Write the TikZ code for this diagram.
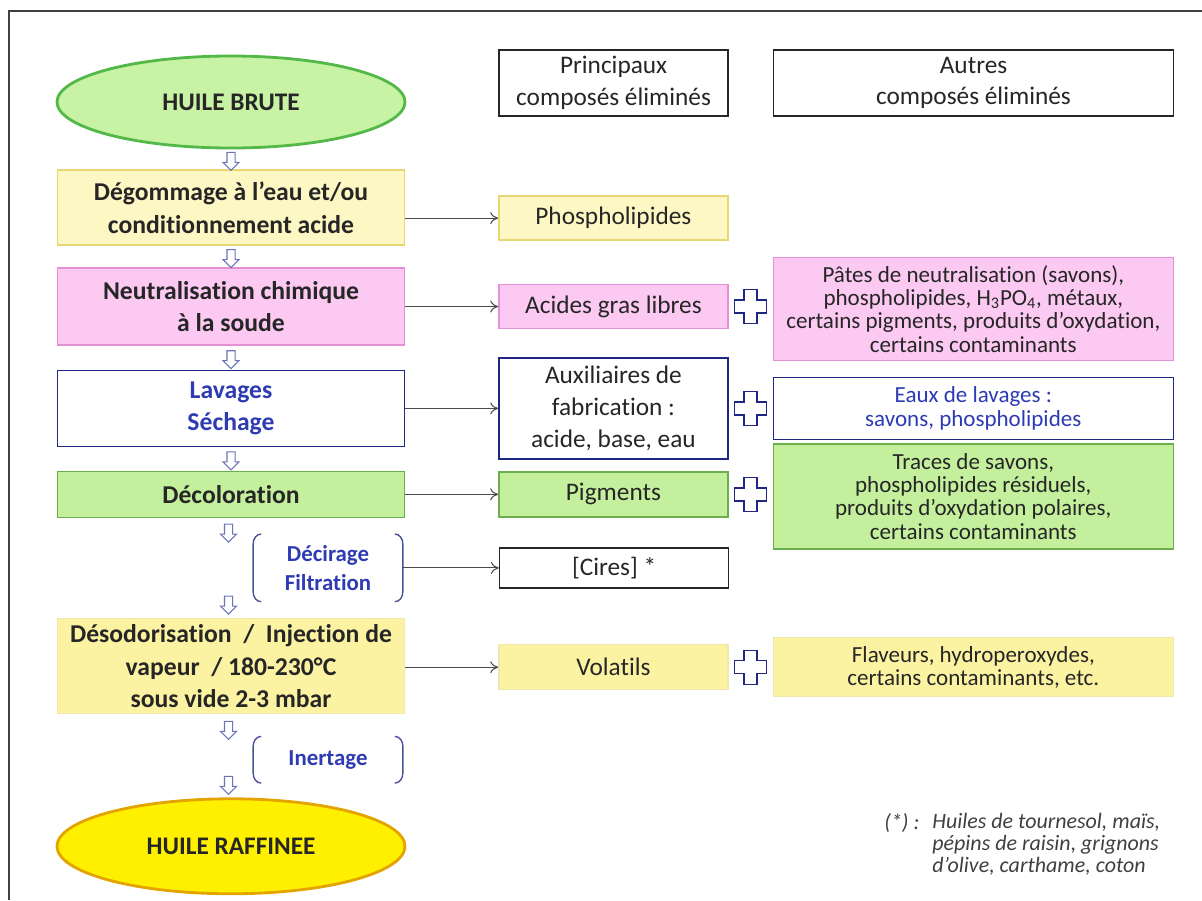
\documentclass[tikz,border=0pt]{standalone}
\usepackage{fontspec}
\setsansfont{Carlito}[Ligatures=NoCommon]
\usepackage{tikz}
\usetikzlibrary{positioning,shapes.geometric,shapes.arrows,calc,arrows.meta}

\definecolor{vertclair}{HTML}{C8F2A4}
\definecolor{vertbord}{HTML}{52B847}
\definecolor{vertfond}{HTML}{C4F09E}
\definecolor{vertfonce}{HTML}{6AAF4C}
\definecolor{jaunepale}{HTML}{FDF7C3}
\definecolor{jaunebord}{HTML}{E6D772}
\definecolor{jaunefond}{HTML}{FCF3A2}
\definecolor{jaunevif}{HTML}{FFF000}
\definecolor{orangebord}{HTML}{E3A400}
\definecolor{rose}{HTML}{FBC9F1}
\definecolor{rosebord}{HTML}{E58FD4}
\definecolor{marine}{HTML}{1F2683}
\definecolor{bleutexte}{HTML}{2E3BB3}
\definecolor{bleugris}{HTML}{6A74B8}

\tikzset{croix/.pic={
    \draw[marine, line width=0.8pt, fill=white]
      (-1.3mm,3.4mm) -- (1.3mm,3.4mm) -- (1.3mm,1.3mm) -- (3.2mm,1.3mm)
      -- (3.2mm,-1.3mm) -- (1.3mm,-1.3mm) -- (1.3mm,-3.4mm) -- (-1.3mm,-3.4mm)
      -- (-1.3mm,-1.3mm) -- (-3.2mm,-1.3mm) -- (-3.2mm,1.3mm) -- (-1.3mm,1.3mm) -- cycle;}}

\begin{document}
\begin{tikzpicture}[font=\sffamily, x=0.2mm, y=-0.2mm,
    etape/.style={rectangle, minimum width=69.4mm, align=center, line width=0.8pt, text=black!85,
        font=\sffamily\bfseries\fontsize{14.6}{18.5}\selectfont},
    ovale/.style={ellipse, minimum width=69.6mm, minimum height=18.4mm, line width=1.6pt,
        text=black!85, font=\sffamily\bfseries\fontsize{14.4}{18}\selectfont},
    princ/.style={rectangle, minimum width=45.8mm, align=center, line width=0.8pt, text=black!85,
        font=\sffamily\fontsize{14.4}{18}\selectfont},
    autre/.style={rectangle, minimum width=80mm, align=center, line width=0.8pt, text=black!85,
        font=\sffamily\fontsize{13.1}{13.2}\selectfont},
    facultatif/.style={minimum width=29.8mm, align=center, text=bleutexte,
        font=\sffamily\bfseries\fontsize{13}{16.5}\selectfont},
    fleche/.style={single arrow, shape border rotate=270, draw=bleugris, fill=white,
        line width=0.6pt, inner sep=0.7mm, single arrow head extend=0.8mm,
        single arrow head indent=0mm, minimum height=3.6mm},
    lien/.style={-{To[length=1.6mm,width=2.4mm]}, draw=black!70, line width=0.6pt},
    crochet/.style={draw=marine!80, line width=0.8pt},
    renvoi/.style={inner sep=0pt, align=left, text=black!75,
        font=\sffamily\itshape\fontsize{12.5}{12.4}\selectfont}]
    \useasboundingbox (0,0) rectangle (1202,900);
    \draw[line width=1.4pt, black!75] (1202,11) -- (9,11) -- (9,900);

    % Main process column
    \node[ovale, fill=vertclair, draw=vertbord] (brute) at (231,102) {HUILE BRUTE};
    \node[etape,
          below=4mm of brute,
          minimum height=15mm,
          fill=jaunepale, draw=jaunebord] (degom) {Dégommage à l’eau et/ou\\conditionnement acide};
    \node[etape,
          below=4.3mm of degom,
          minimum height=15.4mm,
          fill=rose, draw=rosebord] (neutral) {Neutralisation chimique\\à la soude};
    \node[etape,
          below=4.8mm of neutral,
          minimum height=15.2mm,
          text=bleutexte,
          fill=white, draw=marine] (lavage) {Lavages\\Séchage};
    \node[etape,
          below=4.7mm of lavage,
          minimum height=9.2mm,
          fill=vertfond, draw=vertfonce] (decol) {Décoloration};
    \node[etape,
          below=20mm of decol,
          minimum height=18.6mm,
          fill=jaunefond, draw=jaunebord!60] (desodo) {Désodorisation~ / ~Injection de\\vapeur~~/ 180-230°C\\sous vide 2-3 mbar};
    \node[ovale,
          below=16.6mm of desodo,
          minimum height=19mm,
          fill=jaunevif, draw=orangebord] (raff) {HUILE RAFFINEE};

    % Optional steps between brackets
    \node[facultatif,
          below=3.2mm of decol,
          xshift=19.4mm,
          minimum height=13.4mm] (decir) {Décirage\\Filtration};
    \node[facultatif,
          below=4.4mm of desodo,
          xshift=19.4mm,
          minimum height=9.2mm] (inert) {Inertage};
    \foreach \n in {decir,inert}{
      \draw[crochet] ([xshift=1.6mm]\n.north west) to[out=180,in=90] ([yshift=-2mm]\n.north west)
        -- ([yshift=2mm]\n.south west) to[out=-90,in=180] ([xshift=1.6mm]\n.south west);
      \draw[crochet] ([xshift=-1.6mm]\n.north east) to[out=0,in=90] ([yshift=-2mm]\n.north east)
        -- ([yshift=2mm]\n.south east) to[out=-90,in=0] ([xshift=-1.6mm]\n.south east);
    }

    % Hollow arrows down the column
    \node[fleche] at ($(brute.south)!0.5!(degom.north)$) {};
    \node[fleche] at ($(degom.south)!0.5!(neutral.north)$) {};
    \node[fleche] at ($(neutral.south)!0.5!(lavage.north)$) {};
    \node[fleche] at ($(lavage.south)!0.5!(decol.north)$) {};
    \node[fleche] at ($(decol.south)+(-0.5mm,-2.6mm)$) {};
    \node[fleche] at ($(desodo.north)+(-0.5mm,3mm)$) {};
    \node[fleche] at ($(desodo.south)+(-0.5mm,-2.8mm)$) {};
    \node[fleche] at ($(raff.north)+(-0.5mm,2.8mm)$) {};

    % Main compounds removed
    \node[princ,
          right=18.4mm of brute,
          yshift=3.8mm,
          minimum height=13.2mm,
          draw=black!85] (head1) {Principaux\\composés éliminés};
    \node[princ,
          right=18.6mm of degom,
          yshift=-2.1mm,
          minimum height=8.8mm,
          fill=jaunepale, draw=jaunebord] (phospho) {Phospholipides};
    \node[princ,
          right=18.6mm of neutral,
          minimum height=8.8mm,
          fill=rose, draw=rosebord] (acides) {Acides gras libres};
    \node[princ,
          right=18.6mm of lavage,
          minimum height=20.2mm,
          fill=white, draw=marine] (auxil) {Auxiliaires de\\fabrication :\\acide, base, eau};
    \node[princ,
          right=18.6mm of decol,
          minimum height=9mm,
          fill=vertfond, draw=vertfonce] (pigm) {Pigments};
    \node[princ,
          right=19.2mm of decir,
          minimum height=8mm,
          draw=black!85] (cires) {[Cires] *};
    \node[princ,
          right=18.6mm of desodo,
          yshift=-0.2mm,
          minimum height=9mm,
          fill=jaunefond, draw=jaunebord!60] (volat) {Volatils};

    % Other compounds removed
    \node[princ,
          right=8.8mm of head1,
          minimum width=80mm,
          minimum height=13.2mm,
          draw=black!85] (head2) {Autres\\composés éliminés};
    \node[autre,
          right=8.8mm of acides,
          yshift=-0.5mm,
          minimum height=20.6mm,
          fill=rose, draw=rosebord] (pates) {Pâtes de neutralisation (savons),\\phospholipides, H\textsubscript{3}PO\textsubscript{4}, métaux,\\certains pigments, produits d’oxydation,\\certains contaminants};
    \node[autre,
          right=8.8mm of auxil,
          minimum height=12.4mm,
          text=bleutexte,
          fill=white, draw=marine] (eaux) {Eaux de lavages :\\savons, phospholipides};
    \node[autre,
          right=8.8mm of pigm,
          yshift=-0.4mm,
          minimum height=21mm,
          fill=vertfond, draw=vertfonce] (traces) {Traces de savons,\\phospholipides résiduels,\\produits d’oxydation polaires,\\certains contaminants};
    \node[autre,
          right=8.8mm of volat,
          minimum height=11.8mm,
          fill=jaunefond, draw=jaunebord!60] (flav) {Flaveurs, hydroperoxydes,\\certains contaminants, etc.};

    % Connect the steps to what they remove
    \draw[lien] (degom.east |- phospho.west) -- (phospho.west);
    \draw[lien] (neutral.east |- acides.west) -- (acides.west);
    \draw[lien] (lavage.east |- auxil.west) -- (auxil.west);
    \draw[lien] (decol.east |- pigm.west) -- (pigm.west);
    \draw[lien] (decir.east |- cires.west) -- (cires.west);
    \draw[lien] (desodo.east |- volat.west) -- (volat.west);
    \foreach \a/\b in {acides/pates,auxil/eaux,pigm/traces,volat/flav}
      \pic at ($(\a.east)!0.5!(\a.east -| \b.west)$) {croix};

    % Footnote
    \node[renvoi, anchor=north west] (etoile) at (884,813) {(*) :};
    \node[renvoi, anchor=north west] (huiles) at (932,813)
        {Huiles de tournesol, maïs,\\pépins de raisin, grignons\\d’olive, carthame, coton};
\end{tikzpicture}
\end{document}
